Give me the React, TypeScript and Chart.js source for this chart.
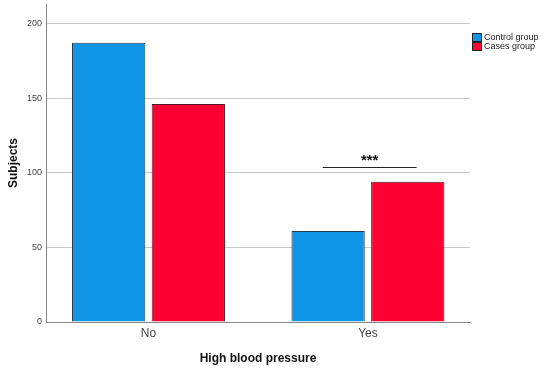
import React, { useEffect, useRef } from "react";
import { Chart, registerables } from "chart.js";

Chart.register(...registerables);

const categories = ["No", "Yes"];
const controlGroup = [187, 61];
const casesGroup = [146, 94];
const yTicks = [0, 50, 100, 150, 200];
const seriesNames = ["Control group", "Cases group"];
const seriesColors = ["#0F94E6", "#FF0033"];
const significance = { label: "***", from: 0.794, to: 1.222, y: 104 };

const legendPlugin = {
  id: "customLegend",
  afterDraw(chart: any) {
    const ctx = chart.ctx;
    const x0 = chart.chartArea.right + 2;
    ctx.save();
    ctx.font = "9px Arial, 'Liberation Sans', sans-serif";
    ctx.textBaseline = "middle";
    seriesNames.forEach((name, i) => {
      const y = 33 + i * 9;
      ctx.fillStyle = seriesColors[i];
      ctx.fillRect(x0, y, 9, 8);
      ctx.strokeStyle = "#222";
      ctx.lineWidth = 1;
      ctx.strokeRect(x0 + 0.5, y + 0.5, 9, 8);
      ctx.fillStyle = "#222";
      ctx.fillText(name, x0 + 12, y + 4.5);
    });
    ctx.restore();
  },
};

const annotationPlugin = {
  id: "sigAnnotation",
  afterDatasetsDraw(chart: any) {
    const ctx = chart.ctx;
    const xs = chart.scales.x;
    const ys = chart.scales.y;
    const x1 = xs.getPixelForValue(significance.from);
    const x2 = xs.getPixelForValue(significance.to);
    const y = Math.round(ys.getPixelForValue(significance.y)) + 0.5;
    ctx.save();
    ctx.strokeStyle = "#222";
    ctx.lineWidth = 1;
    ctx.beginPath();
    ctx.moveTo(x1, y);
    ctx.lineTo(x2, y);
    ctx.stroke();
    ctx.fillStyle = "#111";
    ctx.font = "bold 15px Arial, 'Liberation Sans', sans-serif";
    ctx.textAlign = "center";
    ctx.textBaseline = "alphabetic";
    ctx.fillText(significance.label, (x1 + x2) / 2, y - 3);
    ctx.restore();
  },
};

export default function App() {
  const ref = useRef<HTMLCanvasElement>(null);
  useEffect(() => {
    const chart = new Chart(ref.current!, {
      type: "bar",
      data: {
        datasets: [
          {
            label: seriesNames[0],
            data: categories.map((_, i) => ({ x: i, y: controlGroup[i] })),
            backgroundColor: seriesColors[0],
            borderColor: "#2a3a4a",
            borderWidth: 1,
            categoryPercentage: 0.726,
            barPercentage: 0.92,
          },
          {
            label: seriesNames[1],
            data: categories.map((_, i) => ({ x: i, y: casesGroup[i] })),
            backgroundColor: seriesColors[1],
            borderColor: "#4a1a22",
            borderWidth: 1,
            categoryPercentage: 0.726,
            barPercentage: 0.92,
          },
        ],
      },
      options: {
        animation: false,
        responsive: false,
        maintainAspectRatio: false,
        layout: { padding: { left: 0, top: 4, right: 80, bottom: 0 } },
        plugins: {
          legend: { display: false },
          tooltip: { enabled: false },
        },
        scales: {
          x: {
            type: "linear",
            offset: false,
            min: -0.467,
            max: 1.465,
            afterBuildTicks: (axis: any) => {
              axis.ticks = categories.map((_, i) => ({ value: i }));
            },
            afterFit: (axis: any) => {
              axis.height = 51;
            },
            ticks: {
              callback: (v: any) => categories[v] ?? "",
              color: "#444",
              font: { size: 12, family: "Arial, 'Liberation Sans', sans-serif" },
              padding: 4,
              maxRotation: 0,
            },
            grid: { display: false, drawTicks: false, offset: false },
            border: { display: true, color: "#888", width: 1 },
            title: {
              display: true,
              text: "High blood pressure",
              color: "#111",
              font: { size: 12, weight: "bold", family: "Arial, 'Liberation Sans', sans-serif" },
              padding: { top: 5, bottom: 7 },
            },
          },
          y: {
            type: "linear",
            min: 0,
            max: 213,
            afterBuildTicks: (axis: any) => {
              axis.ticks = yTicks.map((v) => ({ value: v }));
            },
            afterFit: (axis: any) => {
              axis.width = 46;
              axis.paddingTop = 0;
              axis.paddingBottom = 0;
            },
            ticks: {
              color: "#444",
              font: { size: 9, family: "Arial, 'Liberation Sans', sans-serif" },
              padding: 4,
            },
            grid: {
              color: (c: any) => (c.tick && c.tick.value === 0 ? "rgba(0,0,0,0)" : "#c8c8c8"),
              drawTicks: false,
            },
            border: { display: true, color: "#888", width: 1 },
            title: {
              display: true,
              text: "Subjects",
              color: "#111",
              font: { size: 12, weight: "bold", family: "Arial, 'Liberation Sans', sans-serif" },
              padding: { top: 6, bottom: 4 },
            },
          },
        },
      },
      plugins: [legendPlugin, annotationPlugin],
    });
    return () => chart.destroy();
  }, []);
  return (
    <div style={{ position: "fixed", left: 0, top: 0, width: 550, height: 373, background: "#fff" }}>
      <canvas ref={ref} width={550} height={373} />
    </div>
  );
}
